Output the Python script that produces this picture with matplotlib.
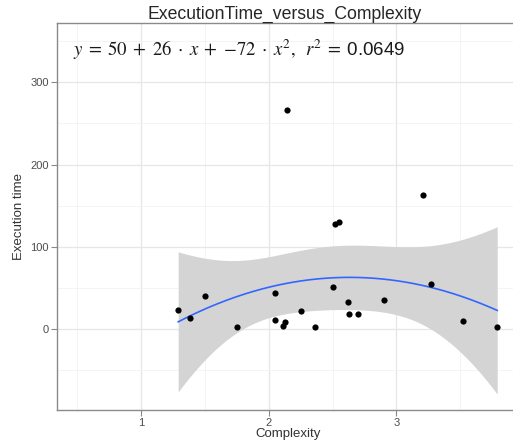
import numpy as np
import matplotlib
matplotlib.use("Agg")
import matplotlib.pyplot as plt
from matplotlib.ticker import MultipleLocator

# -----------------------------
# DATA
# -----------------------------

complexity = [1.29, 1.38, 1.50, 1.75, 2.05, 2.05, 2.11, 2.13, 2.14, 2.25, 2.36,
              2.50, 2.52, 2.55, 2.62, 2.63, 2.70, 2.90, 3.21, 3.27, 3.52, 3.79]
exec_time = [23, 14, 41, 3, 44, 11, 4, 9, 266, 22, 3,
             51, 128, 130, 33, 18, 19, 36, 163, 55, 10, 3]

equation = (r"$y\;=\;50\;+\;26\;\cdot\;x\;+\;{-72}\;\cdot\;x^{2},\;\;"
            r"r^{2}\;=\;$0.0649")

# -----------------------------
# QUADRATIC FIT + 95% BAND
# -----------------------------

x = np.array(complexity)
y = np.array(exec_time)
X = np.column_stack([np.ones_like(x), x, x ** 2])
beta, _, _, _ = np.linalg.lstsq(X, y, rcond=None)
resid = y - X @ beta
dof = len(x) - 3
s2 = resid @ resid / dof
xtx_inv = np.linalg.inv(X.T @ X)

xs = np.linspace(x.min(), x.max(), 200)
Xs = np.column_stack([np.ones_like(xs), xs, xs ** 2])
fit = Xs @ beta
se = np.sqrt(s2 * np.einsum("ij,jk,ik->i", Xs, xtx_inv, Xs))
t_crit = 2.093  # t(0.975, 19)

# -----------------------------
# PLOT
# -----------------------------

plt.rcParams["font.family"] = ["Liberation Sans", "DejaVu Sans"]
plt.rcParams["mathtext.fontset"] = "stix"

fig = plt.figure(figsize=(5.13, 4.43), dpi=100)
ax = fig.add_axes([0.111, 0.0745, 0.903, 0.8735])

ax.fill_between(xs, fit - t_crit * se, fit + t_crit * se, color="#d4d4d4", lw=0, zorder=2)
ax.plot(xs, fit, color="#3366FF", lw=1.2, zorder=3)
ax.scatter(x, y, s=20, color="black", zorder=4, lw=0)

ax.set_xlim(0.34, 3.97)
ax.set_ylim(-98, 372)
ax.set_xticks([1, 2, 3])
ax.set_yticks([0, 100, 200, 300])
ax.xaxis.set_minor_locator(MultipleLocator(0.5))
ax.yaxis.set_minor_locator(MultipleLocator(50))
ax.grid(True, which="major", color="#e6e6e6", lw=0.9, zorder=0)
ax.grid(True, which="minor", color="#f3f3f3", lw=0.6, zorder=0)
ax.set_axisbelow(True)

for sp in ax.spines.values():
    sp.set_color("#8a8a8a")
    sp.set_linewidth(1.0)

ax.tick_params(which="major", length=4, color="#8a8a8a", labelsize=8,
               labelcolor="#4d4d4d", pad=2)
ax.tick_params(which="minor", length=0)

ax.set_xlabel("Complexity", fontsize=9.5, labelpad=0, color="#333333")
ax.set_ylabel("Execution time", fontsize=9.5, labelpad=4, color="#333333")
ax.set_title("ExecutionTime_versus_Complexity", fontsize=12.7, pad=3,
             color="#262626", x=(285 / 513 - 0.111) / 0.903)

ax.text(0.035, 0.93, equation, transform=ax.transAxes, fontsize=13.5,
        ha="left", va="center", color="#1a1a1a")

fig.savefig("out.png", dpi=100)
